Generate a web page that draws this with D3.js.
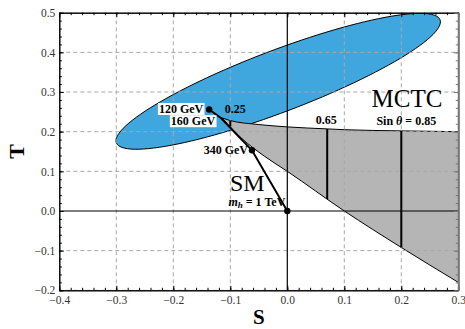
<!DOCTYPE html>
<html>
<head>
<meta charset="utf-8">
<script src="https://cdn.jsdelivr.net/npm/d3@7"></script>
<style>
  body { margin: 0; background: #fff; }
  svg text { font-family: "Liberation Serif", "Times New Roman", serif; }
</style>
</head>
<body>
<div id="chart"></div>
<script>
// S-T oblique parameters plot
const xTicks = [-0.4, -0.3, -0.2, -0.1, 0.0, 0.1, 0.2, 0.3];
const yTicks = [-0.2, -0.1, 0.0, 0.1, 0.2, 0.3, 0.4, 0.5];

// experimental ellipse: center and two semi-axis vectors (S, T units)
const ellipseCenter = [-0.016, 0.327];
const ellipseAxisMajor = [0.284, 0.155];
const ellipseAxisMinor = [0.019, -0.073];

// MCTC region boundaries
const upperS = [-0.115, -0.1, -0.05, 0.0, 0.07, 0.1, 0.2, 0.3];
const upperT = [0.235, 0.228, 0.218, 0.212, 0.207, 0.205, 0.202, 0.200];
const lowerS = [-0.115, -0.08, -0.04, 0.0, 0.1, 0.2, 0.3];
const lowerT = [0.235, 0.183, 0.138, 0.1, 0.0, -0.092, -0.18];

// constant sin(theta) lines
const sinS = [-0.1, 0.07, 0.2];
const sinTop = [0.228, 0.207, 0.202];
const sinBottom = [0.213, 0.03, -0.092];
const sinLabels = ["0.25", "0.65", "Sin θ = 0.85"];

// Standard Model Higgs mass trajectory
const smLabels = ["120 GeV", "160 GeV", "340 GeV", "1 TeV"];
const smS = [-0.137, -0.116, -0.062, 0.0];
const smT = [0.256, 0.234, 0.153, 0.0];
const smDot = [true, false, true, true];

const width = 465, height = 329;
const margin = { top: 12.7, right: 6.7, bottom: 38.7, left: 59.3 };

const svg = d3.select("#chart").append("svg")
  .attr("width", width)
  .attr("height", height);

const x = d3.scaleLinear().domain([-0.4, 0.3]).range([margin.left, width - margin.right]);
const y = d3.scaleLinear().domain([-0.2, 0.5]).range([height - margin.bottom, margin.top]);

svg.append("clipPath").attr("id", "plot")
  .append("rect")
  .attr("x", margin.left).attr("y", margin.top)
  .attr("width", x(0.3) - x(-0.4)).attr("height", y(-0.2) - y(0.5));

const plot = svg.append("g").attr("clip-path", "url(#plot)");

// ellipse
const ellipsePts = d3.range(0, 361, 3).map(a => {
  const t = a * Math.PI / 180;
  return [
    ellipseCenter[0] + ellipseAxisMajor[0] * Math.cos(t) + ellipseAxisMinor[0] * Math.sin(t),
    ellipseCenter[1] + ellipseAxisMajor[1] * Math.cos(t) + ellipseAxisMinor[1] * Math.sin(t)
  ];
});
plot.append("path")
  .attr("d", d3.line().x(d => x(d[0])).y(d => y(d[1])).curve(d3.curveLinearClosed)(ellipsePts))
  .attr("fill", "#3fa7de")
  .attr("stroke", "#000")
  .attr("stroke-width", 1);

// MCTC region
const upper = upperS.map((s, i) => [s, upperT[i]]);
const lower = lowerS.map((s, i) => [s, lowerT[i]]);
const upperLine = d3.line().x(d => x(d[0])).y(d => y(d[1])).curve(d3.curveMonotoneX);
const lowerLine = d3.line().x(d => x(d[0])).y(d => y(d[1])).curve(d3.curveMonotoneX);
plot.append("path")
  .attr("d", upperLine(upper) + "L" + lowerLine(lower.slice().reverse()).slice(1) + "Z")
  .attr("fill", "#b5b5b5")
  .attr("stroke", "none");
plot.append("path").attr("d", upperLine(upper)).attr("fill", "none").attr("stroke", "#000").attr("stroke-width", 1);
plot.append("path").attr("d", lowerLine(lower)).attr("fill", "none").attr("stroke", "#000").attr("stroke-width", 1);

// grid
const grid = plot.append("g")
  .attr("stroke", "#a8a8a8")
  .attr("stroke-width", 1)
  .attr("stroke-dasharray", "4,3");
grid.selectAll(".gx").data(xTicks.filter(v => v !== 0))
  .join("line")
  .attr("x1", d => x(d)).attr("x2", d => x(d))
  .attr("y1", y(-0.2)).attr("y2", y(0.5));
grid.selectAll(".gy").data(yTicks.filter(v => v !== 0))
  .join("line")
  .attr("y1", d => y(d)).attr("y2", d => y(d))
  .attr("x1", x(-0.4)).attr("x2", x(0.3));

// zero axes
plot.append("line").attr("x1", x(0)).attr("x2", x(0)).attr("y1", y(-0.2)).attr("y2", y(0.5))
  .attr("stroke", "#000").attr("stroke-width", 1.2);
plot.append("line").attr("x1", x(-0.4)).attr("x2", x(0.3)).attr("y1", y(0)).attr("y2", y(0))
  .attr("stroke", "#000").attr("stroke-width", 1.2);

// sin theta lines
plot.selectAll(".sinl").data(sinS)
  .join("line")
  .attr("x1", d => x(d)).attr("x2", d => x(d))
  .attr("y1", (d, i) => y(sinTop[i])).attr("y2", (d, i) => y(sinBottom[i]))
  .attr("stroke", "#000").attr("stroke-width", 2);

// SM line and points
const sm = smS.map((s, i) => ({ s, t: smT[i], label: smLabels[i], dot: smDot[i] }));
plot.append("path")
  .attr("d", d3.line().x(d => x(d.s)).y(d => y(d.t))(sm))
  .attr("fill", "none").attr("stroke", "#000").attr("stroke-width", 2);
plot.selectAll(".smdot").data(sm.filter(d => d.dot))
  .join("circle")
  .attr("cx", d => x(d.s)).attr("cy", d => y(d.t)).attr("r", 3.2)
  .attr("fill", "#000");

// frame and ticks
const minorX = d3.range(-20, 16).map(i => i * 0.02);
const minorY = d3.range(-10, 26).map(i => i * 0.02);
const fmt = d3.format(".1f");

function addAxis(axis, tx, ty, color) {
  const g = svg.append("g").attr("transform", `translate(${tx},${ty})`).call(axis);
  g.select(".domain").attr("stroke", color).attr("stroke-width", 1);
  g.selectAll(".tick line").attr("stroke", color);
  return g;
}

const yBottom = y(-0.2), yTop = y(0.5), xLeft = x(-0.4), xRight = x(0.3);

addAxis(d3.axisBottom(x).tickValues(minorX).tickSize(-2.5).tickSizeOuter(0).tickFormat(""), 0, yBottom, "#000");
addAxis(d3.axisTop(x).tickValues(minorX).tickSize(-2.5).tickSizeOuter(0).tickFormat(""), 0, yTop, "#000");
addAxis(d3.axisLeft(y).tickValues(minorY).tickSize(-2.5).tickSizeOuter(0).tickFormat(""), xLeft, 0, "#000");
addAxis(d3.axisRight(y).tickValues(minorY).tickSize(-2.5).tickSizeOuter(0).tickFormat(""), xRight, 0, "#777");

const xb = addAxis(d3.axisBottom(x).tickValues(xTicks).tickSize(-4.5).tickSizeOuter(0).tickPadding(5.5).tickFormat(fmt), 0, yBottom, "#000");
addAxis(d3.axisTop(x).tickValues(xTicks).tickSize(-4.5).tickSizeOuter(0).tickFormat(""), 0, yTop, "#000");
const yl = addAxis(d3.axisLeft(y).tickValues(yTicks).tickSize(-4.5).tickSizeOuter(0).tickPadding(4).tickFormat(fmt), xLeft, 0, "#000");
const yr = addAxis(d3.axisRight(y).tickValues(yTicks).tickSize(-4.5).tickSizeOuter(0).tickFormat(""), xRight, 0, "#777");
yr.select(".domain").attr("stroke-width", 2);

[xb, yl].forEach(g => g.selectAll("text")
  .attr("font-family", "Liberation Serif")
  .attr("font-size", 11.5)
  .attr("fill", "#333"));

// axis titles
svg.append("text")
  .attr("x", (xLeft + xRight) / 2).attr("y", 324)
  .attr("text-anchor", "middle")
  .attr("font-size", 21).attr("font-weight", "bold")
  .text("S");
svg.append("text")
  .attr("transform", `translate(24,${(yTop + yBottom) / 2}) rotate(-90)`)
  .attr("text-anchor", "middle")
  .attr("font-size", 22).attr("font-weight", "bold")
  .text("T");

// labels
const lab = svg.append("g").attr("font-weight", "bold").attr("font-size", 12);

function boxedLabel(tx, ty, str) {
  const t = lab.append("text").attr("x", tx).attr("y", ty).attr("text-anchor", "end").text(str);
  const b = t.node().getBBox();
  lab.insert("rect", "text")
    .attr("x", b.x - 1).attr("y", b.y + 1).attr("width", b.width + 2).attr("height", b.height - 2)
    .attr("fill", "#fff");
}
boxedLabel(x(sm[0].s) - 6, y(sm[0].t) + 3.5, sm[0].label);
boxedLabel(x(sm[1].s) - 6, y(sm[1].t) + 7, sm[1].label);

lab.append("text")
  .attr("x", x(sm[2].s) - 4).attr("y", y(sm[2].t) + 4)
  .attr("text-anchor", "end").text(sm[2].label);

const mh = lab.append("text")
  .attr("x", x(sm[3].s) - 2).attr("y", y(sm[3].t) - 5)
  .attr("text-anchor", "end");
mh.append("tspan").attr("font-style", "italic").text("m");
mh.append("tspan").attr("font-style", "italic").attr("font-size", 9).attr("dy", 2.5).text("h");
mh.append("tspan").attr("dy", -2.5).text(" = " + sm[3].label);

svg.append("text").attr("x", 230).attr("y", 191).attr("font-size", 24).text("SM");
svg.append("text").attr("x", 407).attr("y", 107).attr("font-size", 25).attr("text-anchor", "middle").text("MCTC");

lab.append("text").attr("x", x(sinS[0]) + 5).attr("y", y(sinTop[0]) - 8).attr("text-anchor", "middle").text(sinLabels[0]);
lab.append("text").attr("x", x(sinS[1]) - 1).attr("y", y(sinTop[1]) - 5).attr("text-anchor", "middle").text(sinLabels[1]);
const s85 = lab.append("text").attr("x", x(sinS[2]) + 5).attr("y", y(sinTop[2]) - 6).attr("text-anchor", "middle");
s85.append("tspan").text("Sin ");
s85.append("tspan").attr("font-style", "italic").text("θ");
s85.append("tspan").text(" = 0.85");
</script>
</body>
</html>
